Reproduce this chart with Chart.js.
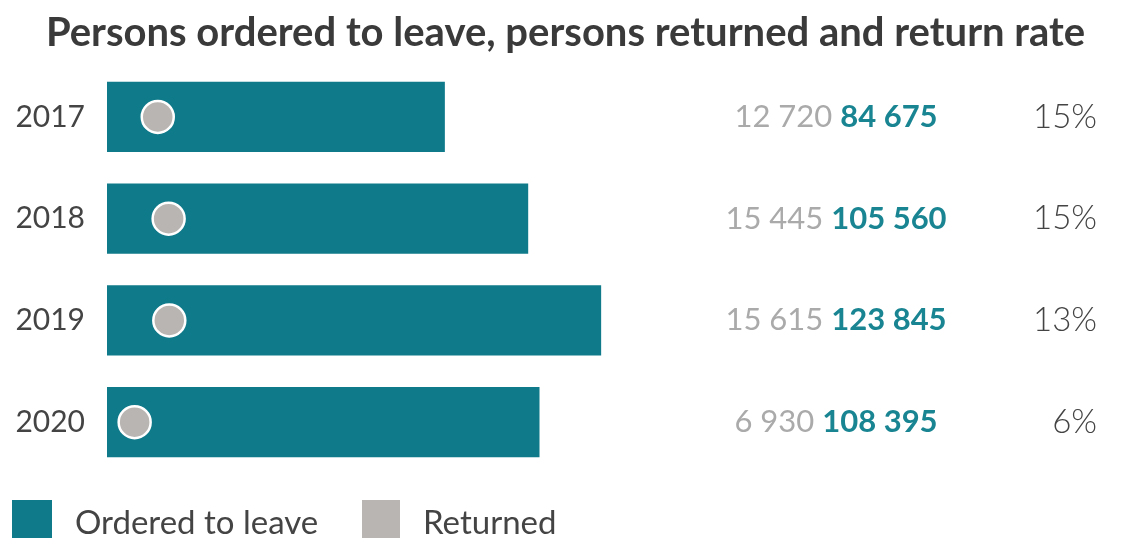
<!DOCTYPE html>
<html>
<head>
<meta charset="utf-8">
<script src="https://cdn.jsdelivr.net/npm/chart.js@4"></script>
<style>
  html, body { margin: 0; padding: 0; background: #fff; }
  #wrap { width: 1131px; height: 538px; }
</style>
</head>
<body>
<div id="wrap"><canvas id="myChart" width="1131" height="538"></canvas></div>
<script>
var years = ['2017', '2018', '2019', '2020'];
var orderedToLeave = [84675, 105560, 123845, 108395];
var returned = [12720, 15445, 15615, 6930];
var seriesNames = ['Ordered to leave', 'Returned'];

var teal = '#0f7a8a';
var grey = '#b9b5b2';

function fmt(n) {
  return String(n).replace(/\B(?=(\d{3})+(?!\d))/g, ' ');
}

// numbers and rate at the right of every row, plus the legend
var sidePlugin = {
  id: 'side',
  afterDraw: function (chart) {
    var ctx = chart.ctx;
    var y = chart.scales.y;
    ctx.save();
    ctx.textBaseline = 'middle';
    for (var i = 0; i < years.length; i++) {
      var py = y.getPixelForValue(i);
      var a = fmt(returned[i]);
      var b = fmt(orderedToLeave[i]);
      ctx.font = '400 31px Lato';
      var wa = ctx.measureText(a + ' ').width;
      ctx.font = '700 31px Lato';
      var wb = ctx.measureText(b).width;
      var x0 = 836 - (wa + wb) / 2;
      ctx.textAlign = 'left';
      ctx.font = '400 31px Lato';
      ctx.fillStyle = '#aaaaaa';
      ctx.fillText(a, x0, py);
      ctx.font = '700 31px Lato';
      ctx.fillStyle = '#1a8592';
      ctx.fillText(b, x0 + wa, py);
      var rate = Math.round(returned[i] / orderedToLeave[i] * 100) + '%';
      ctx.font = '300 33px Lato';
      ctx.fillStyle = '#444444';
      ctx.textAlign = 'right';
      ctx.fillText(rate, 1097, py);
    }
    // legend
    ctx.textAlign = 'left';
    ctx.font = '400 33px Lato';
    ctx.fillStyle = teal;
    ctx.fillRect(12, 500, 40, 40);
    ctx.fillStyle = '#444444';
    ctx.fillText(seriesNames[0], 75, 523);
    ctx.fillStyle = grey;
    ctx.fillRect(362, 500, 38, 40);
    ctx.fillStyle = '#444444';
    ctx.fillText(seriesNames[1], 423, 523);
    ctx.restore();
  }
};

var ctx = document.getElementById('myChart').getContext('2d');

var myChart = new Chart(ctx, {
  type: 'bar',
  data: {
    labels: years,
    datasets: [
      {
        type: 'line',
        label: seriesNames[1],
        data: returned,
        showLine: false,
        pointRadius: 16,
        pointHoverRadius: 16,
        pointBackgroundColor: grey,
        pointBorderColor: '#ffffff',
        pointBorderWidth: 2.5,
        order: 0
      },
      {
        label: seriesNames[0],
        data: orderedToLeave,
        backgroundColor: teal,
        barPercentage: 0.69,
        categoryPercentage: 1,
        order: 1
      }
    ]
  },
  options: {
    indexAxis: 'y',
    responsive: false,
    animation: false,
    layout: { padding: { left: 0, right: 0, top: 0, bottom: 65 } },
    plugins: {
      legend: { display: false },
      tooltip: { enabled: false },
      title: {
        display: true,
        text: 'Persons ordered to leave, persons returned and return rate',
        color: '#3a3a3a',
        font: { family: 'Lato', size: 40, weight: 'bold', lineHeight: 1.2 },
        padding: { top: 9, bottom: 9 }
      }
    },
    scales: {
      x: {
        display: false,
        min: 0,
        max: 252000
      },
      y: {
        grid: { display: false, drawTicks: false },
        border: { display: false },
        ticks: {
          color: '#444444',
          padding: 22,
          font: { family: 'Lato', size: 30 }
        },
        afterFit: function (scale) { scale.width = 107; }
      }
    }
  },
  plugins: [sidePlugin]
});
</script>
</body>
</html>
